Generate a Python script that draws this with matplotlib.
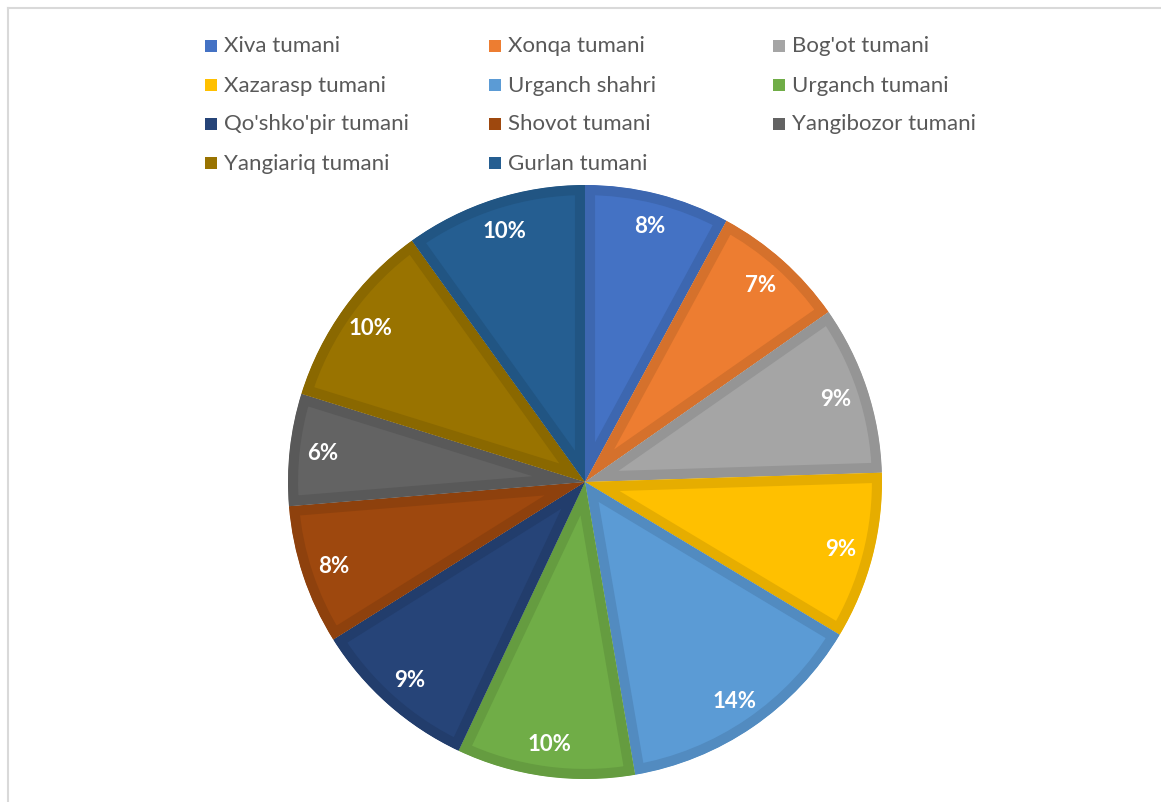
import matplotlib.pyplot as plt
import matplotlib.colors as mcolors
from matplotlib.patches import Rectangle
from matplotlib.lines import Line2D

# data (shares in percent)
districts = ["Xiva tumani", "Xonqa tumani", "Bog'ot tumani",
             "Xazarasp tumani", "Urganch shahri", "Urganch tumani",
             "Qo'shko'pir tumani", "Shovot tumani", "Yangibozor tumani",
             "Yangiariq tumani", "Gurlan tumani"]
shares = [7.9, 7.4, 9.2, 9.1, 13.7, 9.7, 9.1, 7.6, 6.1, 10.3, 9.9]
colors = ["#4472C4", "#ED7D31", "#A5A5A5", "#FFC000", "#5B9BD5", "#70AD47",
          "#264478", "#9E480E", "#636363", "#997300", "#255E91"]

W, H = 1161, 803
fig = plt.figure(figsize=(W / 100, H / 100), dpi=100)

# pie axes: centre (585, 483), radius 297 px
cx, cy, r = 585, 483, 297
ax = fig.add_axes([(cx - r) / W, (H - cy - r) / H, 2 * r / W, 2 * r / H])

wedges, texts, autotexts = ax.pie(
    shares, colors=colors, startangle=90, counterclock=False,
    autopct='%1.0f%%', pctdistance=0.89, radius=1,
    wedgeprops=dict(linewidth=14.5),
    textprops=dict(color='white', fontsize=16, fontweight='bold', family='Lato'))

for w, c in zip(wedges, colors):
    dark = [v * 0.9 for v in mcolors.to_rgb(c)]
    w.set_edgecolor(dark)
    w.set_clip_on(True)
    w.set_clip_path(w)   # keep only the inner half of the thick border

ax.set_xlim(-1, 1)
ax.set_ylim(-1, 1)
ax.set_aspect('equal')
ax.axis('off')

# legend, three evenly spaced columns like the original
col_x = [205, 489, 773]
row_y = [46.5, 85.5, 124.5, 163.5]
sq = 12
for i, (name, c) in enumerate(zip(districts, colors)):
    x0 = col_x[i % 3]
    y0 = row_y[i // 3]
    fig.patches.append(Rectangle((x0 / W, (H - y0 - sq / 2) / H), sq / W, sq / H,
                                 transform=fig.transFigure, facecolor=c,
                                 edgecolor='none'))
    fig.text((x0 + sq + 7) / W, (H - y0) / H, name, ha='left', va='center',
             fontsize=16, family='Lato', color='#595959')

# chart frame (top and left edges visible)
fig.lines.append(Line2D([8 / W, 1], [(H - 9) / H, (H - 9) / H],
                        transform=fig.transFigure, color='#D9D9D9', linewidth=1.5))
fig.lines.append(Line2D([8 / W, 8 / W], [0, (H - 9) / H],
                        transform=fig.transFigure, color='#D9D9D9', linewidth=1.5))

plt.savefig('out.png', dpi=100, facecolor='white')
